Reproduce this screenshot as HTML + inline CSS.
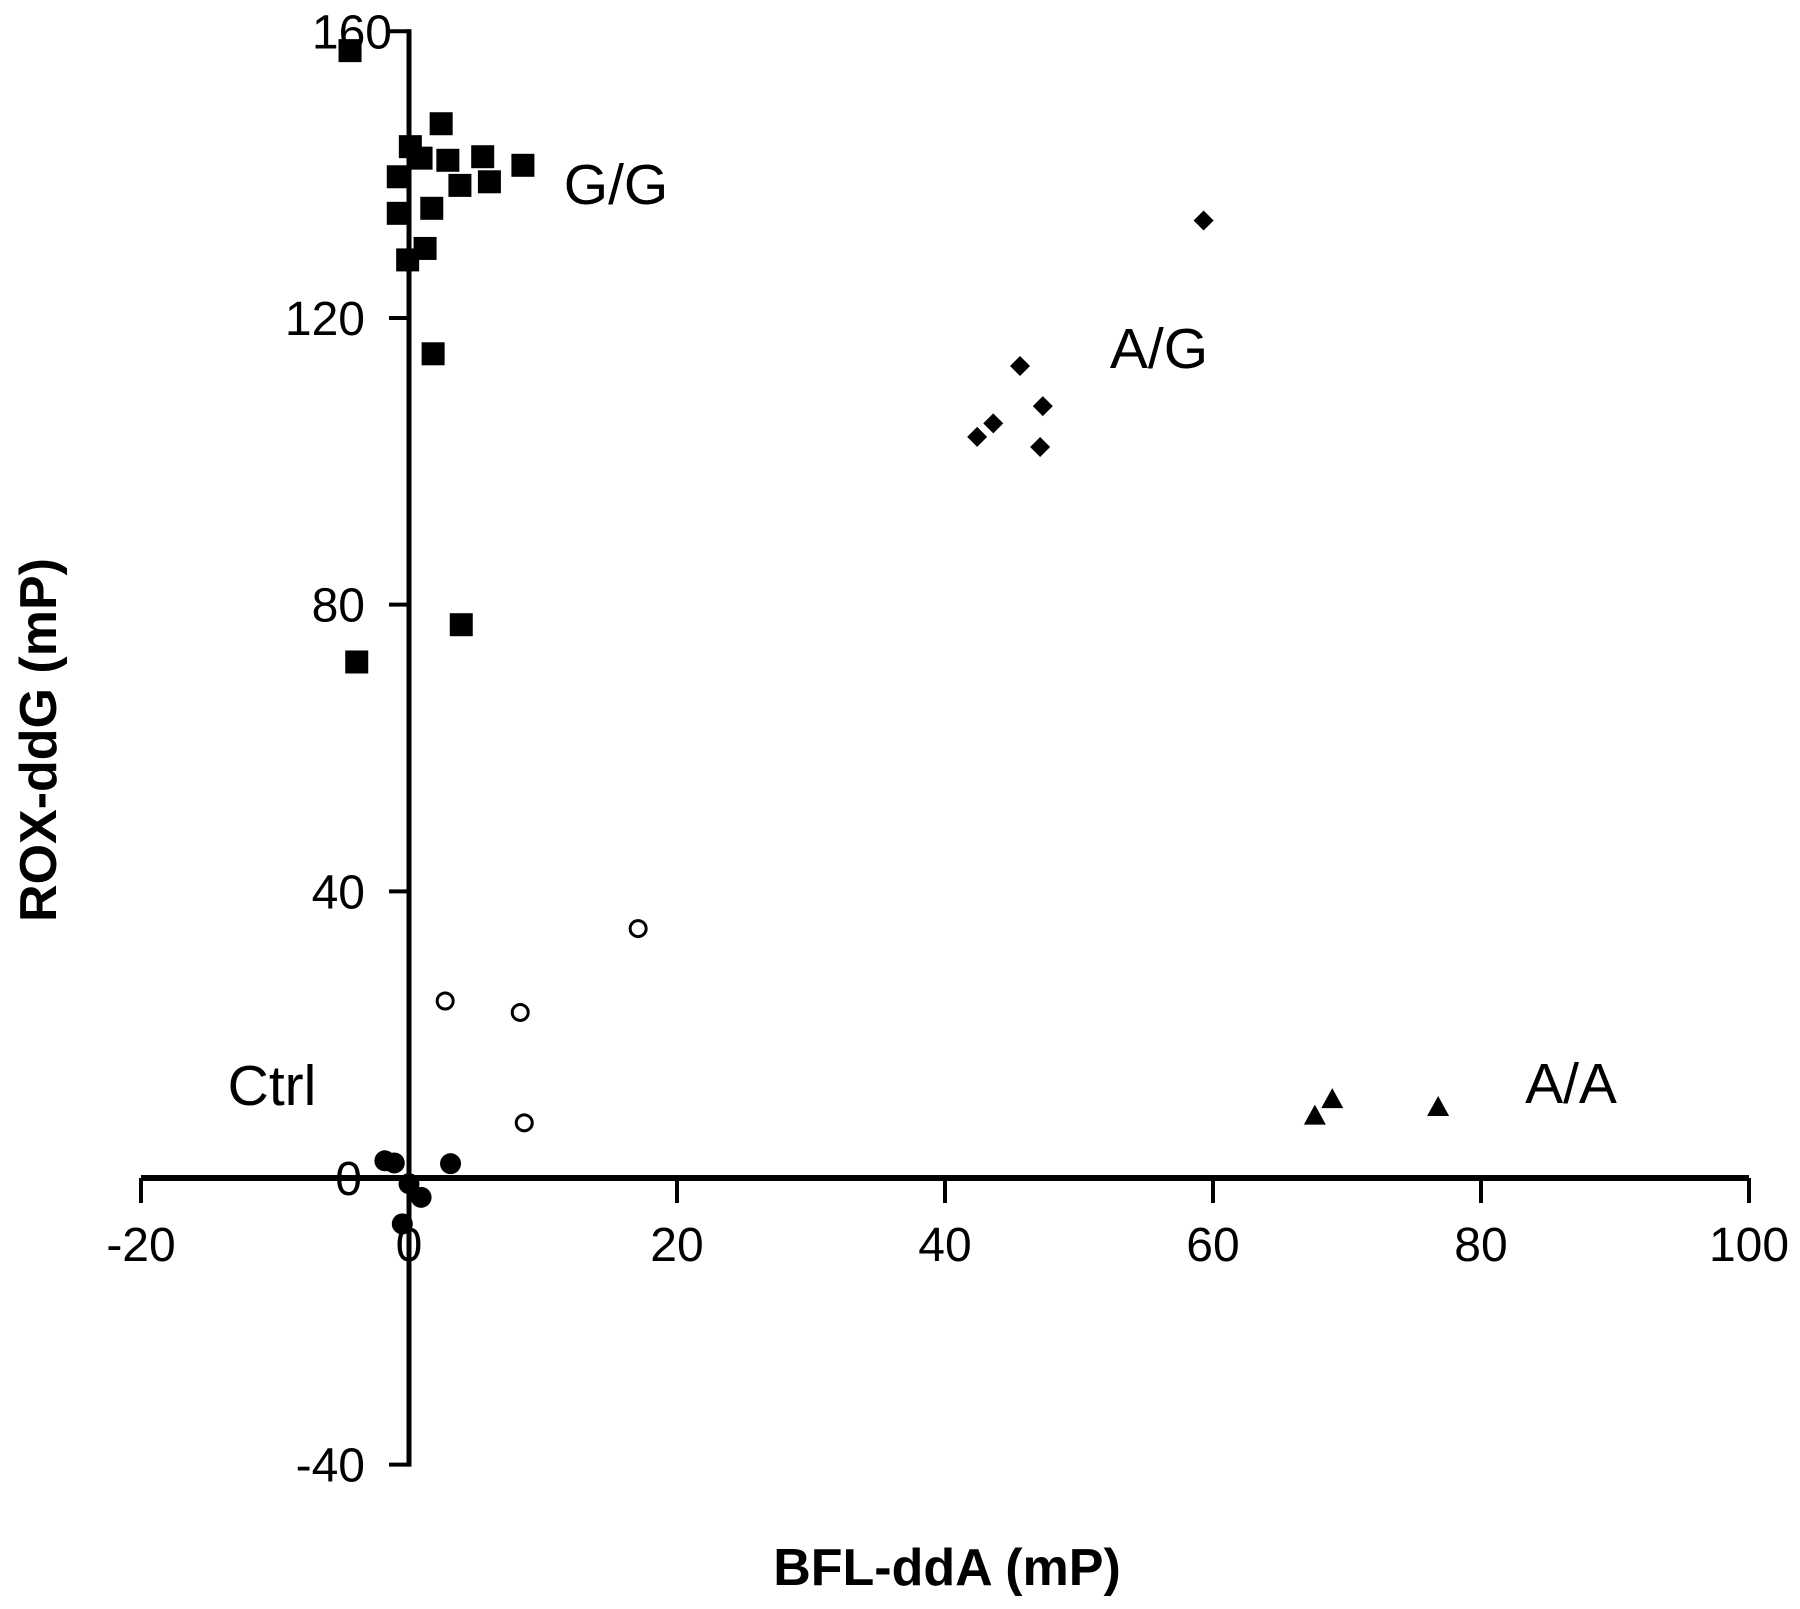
<!DOCTYPE html>
<html><head><meta charset="utf-8"><style>
html,body{margin:0;padding:0;background:#fff;}
svg{display:block;font-family:"Liberation Sans",Arial,sans-serif;}
</style></head><body>
<svg id="chart" width="1800" height="1609" viewBox="0 0 1800 1609" xmlns="http://www.w3.org/2000/svg">
<g id="axes"></g><g id="marks"></g><g id="labels"></g>
</svg>
<script>
const xTicks=[-20,0,20,40,60,80,100];
const xTickLabels=["-20","0","20","40","60","80","100"];
const yTicks=[160,120,80,40,0,-40];
const yTickLabels=["160","120","80","40","0","-40"];
const ggX=[-4.4,2.4,0.1,0.9,2.9,5.5,6.0,8.5,-0.8,3.8,-0.8,1.7,1.2,-0.1,1.8,3.9,-3.9];
const ggY=[157.3,147.1,143.9,142.3,142,142.5,139,141.3,139.7,138.5,134.6,135.3,129.7,128.1,115,77.2,72];
const agX=[59.3,45.6,47.3,43.6,42.4,47.1];
const agY=[133.6,113.3,107.7,105.3,103.4,102];
const aaX=[67.6,68.9,76.8];
const aaY=[8.7,11,9.9];
const openX=[17.1,2.7,8.3,8.6];
const openY=[34.8,24.7,23.1,7.7];
const ctrlX=[-1.8,-1.1,3.1,0,0.9,-0.5];
const ctrlY=[2.4,2.1,2,-0.8,-2.7,-6.4];

const NS="http://www.w3.org/2000/svg";
function sx(v){return 409+(v)*13.4;}
function sy(v){return 1178-(v)*7.167;}
function mk(tag,attrs,parent){const e=document.createElementNS(NS,tag);for(const k in attrs)e.setAttribute(k,attrs[k]);parent.appendChild(e);return e;}
const axes=document.getElementById('axes'),marks=document.getElementById('marks'),labels=document.getElementById('labels');

let l=mk('line',{x1:sx(-20),x2:sx(100),y1:sy(0),y2:sy(0),stroke:'#000','stroke-width':6},axes);


l=mk('line',{x1:sx(0),x2:sx(0),y1:sy(160)-2,y2:sy(-40)+2,stroke:'#000','stroke-width':5},axes);


xTicks.forEach((v,i)=>{
  if(v!==0){const t=mk('line',{x1:sx(v),x2:sx(v),y1:sy(0),y2:sy(0)+25,stroke:'#000','stroke-width':4},axes);
  
  }
  const tx=mk('text',{x:sx(v),y:sy(0)+83,'font-size':48,'text-anchor':'middle'},labels);
  tx.textContent=xTickLabels[i];
  
  
});
yTicks.forEach((v,i)=>{
  if(v!==0){const t=mk('line',{x1:sx(0)-20,x2:sx(0),y1:sy(v),y2:sy(v),stroke:'#000','stroke-width':4},axes);
  
  }
  const tx=mk('text',{x:v===160?392:(v===0?362:365),y:sy(v)+17,'font-size':48,'text-anchor':'end'},labels);
  tx.textContent=yTickLabels[i];
  
  
});
ggX.forEach((x,i)=>{const e=mk('rect',{x:sx(x)-11.5,y:sy(ggY[i])-11.5,width:23,height:23,fill:'#000'},marks);
  
  });
agX.forEach((x,i)=>{const cx=sx(x),cy=sy(agY[i]);const e=mk('polygon',{points:`${cx},${cy-10} ${cx+10},${cy} ${cx},${cy+10} ${cx-10},${cy}`,fill:'#000'},marks);
  
  });
aaX.forEach((x,i)=>{const cx=sx(x),cy=sy(aaY[i]);const e=mk('polygon',{points:`${cx},${cy-11} ${cx+11},${cy+9} ${cx-11},${cy+9}`,fill:'#000'},marks);
  
  });
openX.forEach((x,i)=>{const e=mk('circle',{cx:sx(x),cy:sy(openY[i]),r:8,fill:'#fff',stroke:'#000','stroke-width':3},marks);
  
  });
ctrlX.forEach((x,i)=>{const e=mk('circle',{cx:sx(x),cy:sy(ctrlY[i]),r:10.5,fill:'#000'},marks);
  
  });
[["G/G",616,204],["A/G",1159,368],["A/A",1571,1103],["Ctrl",272,1105]].forEach(a=>{
  const t=mk('text',{x:a[1],y:a[2],'font-size':57,'text-anchor':'middle'},labels);t.textContent=a[0];
  
  });
let t=mk('text',{x:947,y:1585,'font-size':52,'font-weight':'bold','text-anchor':'middle'},labels);t.textContent="BFL-ddA (mP)";


t=mk('text',{x:0,y:0,'font-size':52,'font-weight':'bold','text-anchor':'middle',transform:'translate(56,740) rotate(-90)'},labels);t.textContent="ROX-ddG (mP)";


</script>
</body></html>
